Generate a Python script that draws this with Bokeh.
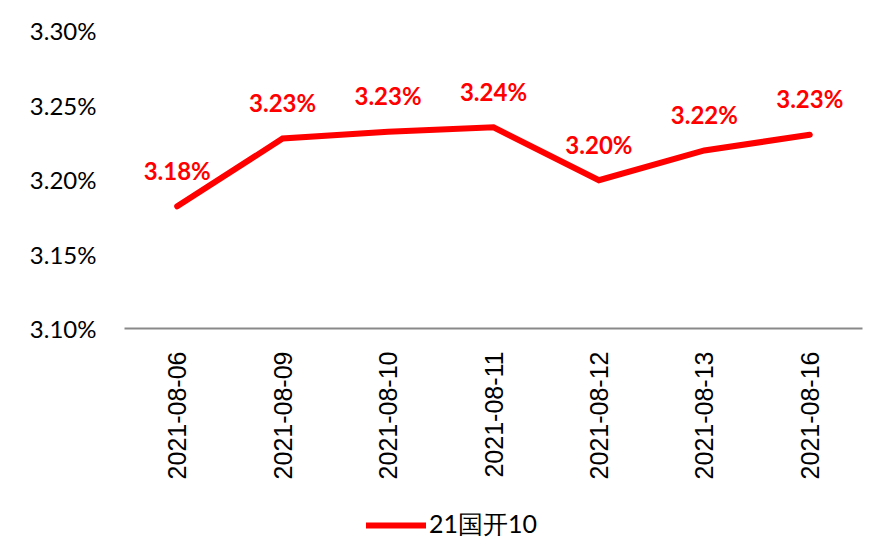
from bokeh.plotting import figure
from bokeh.layouts import column
from bokeh.models import ColumnDataSource, FactorRange, Range1d, Legend, LegendItem, FixedTicker, LabelSet, CustomJSTickFormatter
from bokeh.core.properties import value
from bokeh.embed import file_html
from bokeh.resources import INLINE

dates = ["2021-08-06", "2021-08-09", "2021-08-10", "2021-08-11", "2021-08-12", "2021-08-13", "2021-08-16"]
yields = [3.182, 3.2275, 3.232, 3.235, 3.1995, 3.2195, 3.230]
labels = ["3.18%", "3.23%", "3.23%", "3.24%", "3.20%", "3.22%", "3.23%"]
series_name = "21国开10"
y_ticks = [3.10, 3.15, 3.20, 3.25, 3.30]

RED = "#FF0000"
src = ColumnDataSource(dict(x=dates, y=yields, lab=labels))

p = figure(width=879, height=507, x_range=FactorRange(*dates), y_range=Range1d(3.10, 3.30),
           output_backend="svg", toolbar_location=None,
           min_border_left=124, min_border_right=17, min_border_top=30, min_border_bottom=179)
p.outline_line_color = None
p.grid.grid_line_color = None

r = p.line("x", "y", source=src, line_color=RED, line_width=6, line_cap="round", line_join="miter")

lbls = LabelSet(x="x", y="y", text="lab", source=src, y_offset=36, text_align="center",
                text_baseline="middle", text_color=RED, text_font=value("Lato"),
                text_font_style="bold", text_font_size="24px")
p.add_layout(lbls)

p.yaxis.ticker = FixedTicker(ticks=y_ticks)
p.yaxis.formatter = CustomJSTickFormatter(code="return tick.toFixed(2) + '%';")
p.yaxis.axis_line_color = None
p.yaxis.major_tick_line_color = None
p.yaxis.minor_tick_line_color = None
p.yaxis.major_label_text_font = "Lato"
p.yaxis.major_label_text_font_size = "24px"
p.yaxis.major_label_text_color = "#000000"
p.yaxis.major_label_standoff = 22

p.xaxis.axis_line_color = "#898989"
p.xaxis.axis_line_width = 2
p.xaxis.major_tick_line_color = None
p.xaxis.minor_tick_line_color = None
p.xaxis.major_label_orientation = 1.5708
p.xaxis.major_label_text_font = "Liberation Sans"
p.xaxis.major_label_text_font_size = "25px"
p.xaxis.major_label_text_color = "#000000"
p.xaxis.major_label_standoff = 17

# legend strip below the chart (its line is the same series, drawn outside the visible range)
q = figure(width=879, height=40, x_range=Range1d(0, 1), y_range=Range1d(0, 1),
           output_backend="svg", toolbar_location=None, min_border=0)
q.axis.visible = False
q.grid.grid_line_color = None
q.outline_line_color = None
lr = q.line(x=[-3, -2], y=[-3, -2], line_color=RED, line_width=6, line_cap="round")
legend = Legend(items=[LegendItem(label=series_name, renderers=[lr])], orientation="horizontal",
                location=(242, 6), label_text_font="Lato", label_text_font_size="25px",
                label_text_color="#000000",
                glyph_width=60, glyph_height=20, label_standoff=3, border_line_color=None,
                background_fill_alpha=0, margin=0, padding=4)
q.add_layout(legend)

open("out.html", "w").write(file_html(column(p, q, spacing=0), INLINE))
